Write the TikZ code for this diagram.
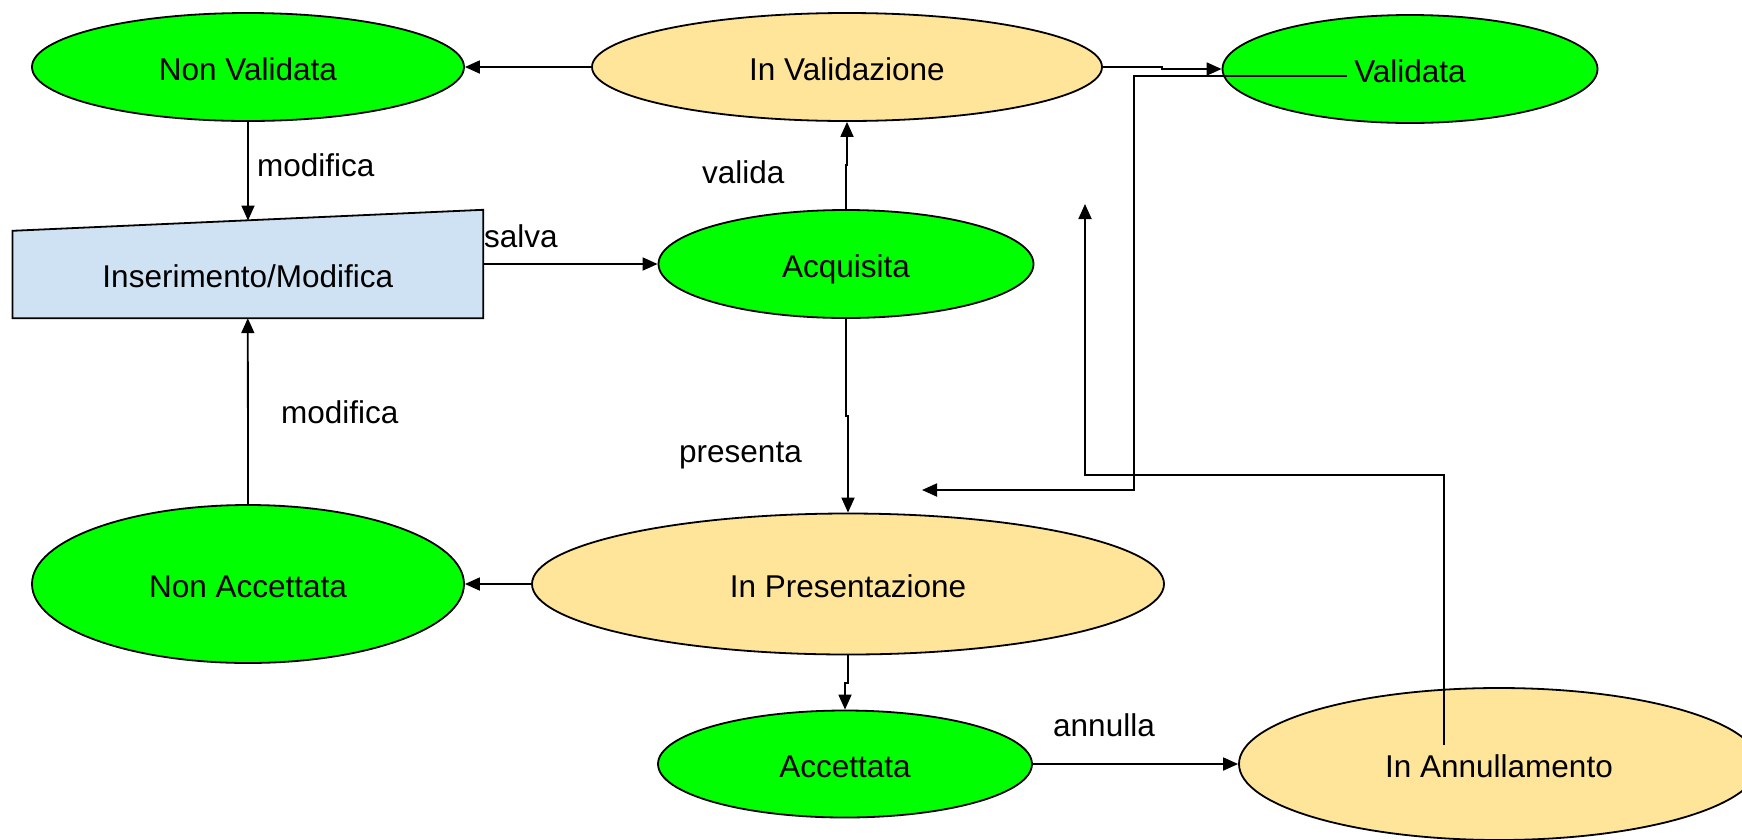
\documentclass[tikz,border=0pt]{standalone}
\usepackage{fontspec}
\setmainfont{Liberation Sans}
\usetikzlibrary{shapes.geometric,arrows.meta,calc}
\definecolor{stgreen}{HTML}{00FF00}
\definecolor{styellow}{HTML}{FFE599}
\definecolor{stblue}{HTML}{CFE2F3}
\begin{document}
\begin{tikzpicture}[x=1pt,y=-1pt,
  txt/.style={font=\fontsize{31.5}{36}\selectfont,text height=26pt,text depth=0pt,inner sep=0pt},
  state/.style={ellipse,draw=black,line width=1.8pt,txt},
  gstate/.style={state,fill=stgreen},
  ystate/.style={state,fill=styellow},
  lbl/.style={anchor=base west,inner sep=0pt,font=\fontsize{31.5}{36}\selectfont},
  conn/.style={line width=1.8pt},
  arr/.style={conn,-{Triangle[length=15pt,width=13pt]}}]
\useasboundingbox (0,0) rectangle (1742,839);
\clip (0,0) rectangle (1742,839);

% states
\node[gstate,minimum width=432pt,minimum height=108pt] (nonval) at (248,67) {Non Validata};
\node[ystate,minimum width=510pt,minimum height=108pt] (inval) at (847,67) {In Validazione};
\node[gstate,minimum width=375pt,minimum height=108pt] (val) at (1410,69) {Validata};
\node[gstate,minimum width=375pt,minimum height=108pt] (acq) at (846,264) {Acquisita};
\node[gstate,minimum width=432pt,minimum height=158pt] (nonacc) at (248,584) {Non Accettata};
\node[ystate,minimum width=632pt,minimum height=141pt] (inpres) at (848,584) {In Presentazione};
\node[gstate,minimum width=374pt,minimum height=107pt] (acc) at (845,764) {Accettata};
\node[ystate,minimum width=520pt,minimum height=152pt] (annull) at (1499,764) {In Annullamento};

% trapezoid Inserimento/Modifica
\node[minimum width=470.4pt,minimum height=108pt,inner sep=0pt] (ins) at (247.8,264) {};
\draw[line width=1.8pt,fill=stblue] (ins.south west) -- (ins.south east) -- (ins.north east)
  -- ($(ins.north west)+(0,21)$) -- cycle;
\node[txt] (instext) at (247.8,274) {Inserimento/Modifica};
\coordinate (insTop) at (248,220.5);

% connectors
\draw[arr] (inval.west) -- (nonval.east);
\coordinate (j1a) at (1162,67);
\coordinate (j1b) at (1162,69);
\draw[arr] (inval.east) -- (j1a) -- (j1b) -- (val.west);

\coordinate (vr0) at (1347,76);
\coordinate (vr1) at (1134,76);
\coordinate (vr2) at (1134,490);
\coordinate (vrEnd) at (922,490);
\draw[arr] (vr0) -- (vr1) -- (vr2) -- (vrEnd);

\coordinate (an0) at (1444,745);
\coordinate (an1) at (1444,475);
\coordinate (an2) at (1085,475);
\coordinate (anEnd) at (1085,204);
\draw[arr] (an0) -- (an1) -- (an2) -- (anEnd);

\coordinate (jv) at (847,165);
\draw[arr] (acq.north) |- (jv) -- (inval.south);
\draw[arr] (ins.east) -- (acq.west);
\draw[arr] (nonval.south) -- (insTop);
\draw[arr] (nonacc.north) -- (ins.south);
\coordinate (jp) at (848,416);
\draw[arr] (acq.south) |- (jp) -- (inpres.north);
\draw[arr] (inpres.west) -- (nonacc.east);
\coordinate (ja) at (845,683);
\draw[arr] (inpres.south) |- (ja) -- (acc.north);
\draw[arr] (acc.east) -- (annull.west);

% labels
\node[lbl] (l1) at (257,176) {modifica};
\node[lbl] (l2) at (484,247) {salva};
\node[lbl] (l3) at (702,183) {valida};
\node[lbl] (l4) at (281,423) {modifica};
\node[lbl] (l5) at (679,462) {presenta};
\node[lbl] (l6) at (1053,736) {annulla};
\end{tikzpicture}
\end{document}
